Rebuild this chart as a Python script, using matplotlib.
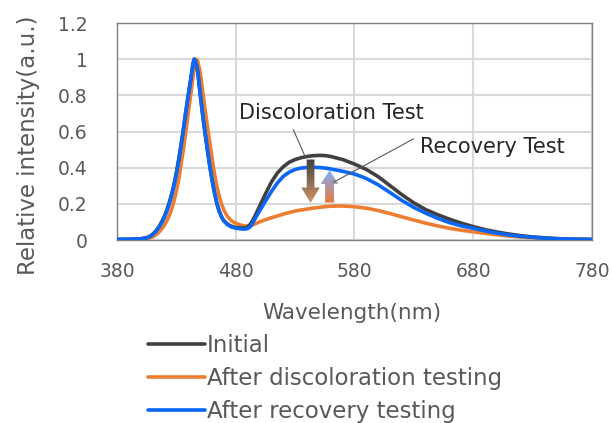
import numpy as np
import matplotlib
matplotlib.use("Agg")
import matplotlib.pyplot as plt
from matplotlib.patches import FancyArrow
from matplotlib.colors import LinearSegmentedColormap

plt.rcParams['font.family'] = ['DejaVu Sans']

# wavelengths (nm)
wavelength = [380, 390, 400, 405, 408, 410, 412, 414, 416, 418, 420, 422, 424, 426,
              428, 430, 432, 434, 436, 438, 440, 442, 444, 445, 446, 447, 448, 450,
              452, 454, 456, 458, 460, 462, 464, 466, 468, 470, 473, 476, 480, 485,
              488, 490, 492, 494, 496, 498, 500, 505, 510, 515, 520, 525, 530, 535,
              540, 545, 550, 555, 560, 570, 580, 590, 600, 610, 620, 630, 640, 650,
              660, 670, 680, 690, 700, 710, 720, 730, 740, 750, 760, 770, 780]

initial = [0.003, 0.004, 0.007, 0.013, 0.022, 0.032, 0.045, 0.061, 0.081, 0.105, 0.133, 0.167, 0.207, 0.253,
           0.308, 0.373, 0.447, 0.53, 0.618, 0.712, 0.80, 0.885, 0.975, 1.0, 0.99, 0.965, 0.93, 0.81,
           0.70, 0.60, 0.505, 0.415, 0.335, 0.265, 0.205, 0.16, 0.128, 0.107, 0.088, 0.077, 0.069, 0.066,
           0.067, 0.072, 0.085, 0.105, 0.13, 0.158, 0.185, 0.255, 0.32, 0.37, 0.405, 0.43, 0.445, 0.455,
           0.462, 0.466, 0.468, 0.467, 0.462, 0.445, 0.42, 0.39, 0.35, 0.30, 0.25, 0.205, 0.168, 0.14,
           0.115, 0.093, 0.074, 0.057, 0.044, 0.033, 0.024, 0.017, 0.012, 0.008, 0.005, 0.004, 0.003]

discolored = [0.002, 0.003, 0.005, 0.007, 0.012, 0.017, 0.025, 0.035, 0.048, 0.064, 0.083, 0.106, 0.135, 0.17,
              0.215, 0.27, 0.335, 0.42, 0.505, 0.60, 0.70, 0.80, 0.90, 0.95, 0.985, 1.0, 0.99, 0.93,
              0.83, 0.73, 0.635, 0.545, 0.455, 0.37, 0.30, 0.245, 0.20, 0.165, 0.13, 0.108, 0.092, 0.081,
              0.077, 0.077, 0.079, 0.083, 0.088, 0.094, 0.10, 0.112, 0.123, 0.133, 0.143, 0.152, 0.16, 0.166,
              0.171, 0.176, 0.18, 0.184, 0.187, 0.188, 0.184, 0.176, 0.163, 0.146, 0.128, 0.11, 0.093, 0.078,
              0.065, 0.054, 0.045, 0.037, 0.029, 0.022, 0.016, 0.012, 0.008, 0.006, 0.004, 0.003, 0.002]

recovered = [0.003, 0.004, 0.006, 0.012, 0.02, 0.03, 0.042, 0.058, 0.077, 0.10, 0.127, 0.16, 0.20, 0.245,
             0.30, 0.365, 0.44, 0.525, 0.615, 0.71, 0.80, 0.885, 0.975, 1.0, 0.99, 0.965, 0.93, 0.81,
             0.70, 0.60, 0.505, 0.415, 0.335, 0.265, 0.205, 0.16, 0.128, 0.105, 0.085, 0.073, 0.065, 0.061,
             0.061, 0.063, 0.072, 0.09, 0.115, 0.138, 0.16, 0.215, 0.268, 0.315, 0.352, 0.375, 0.39, 0.398,
             0.401, 0.402, 0.401, 0.398, 0.393, 0.38, 0.365, 0.34, 0.305, 0.262, 0.218, 0.18, 0.148, 0.12,
             0.096, 0.078, 0.065, 0.05, 0.038, 0.028, 0.02, 0.015, 0.01, 0.007, 0.005, 0.004, 0.003]

series_labels = ['Initial', 'After discoloration testing', 'After recovery testing']
series_colors = ['#404040', '#ED7D31', '#0A66F5']
x_ticks = [380, 480, 580, 680, 780]
y_ticks = [0, 0.2, 0.4, 0.6, 0.8, 1.0, 1.2]
y_ticklabels = ['0', '0.2', '0.4', '0.6', '0.8', '1', '1.2']

fig = plt.figure(figsize=(6.13, 4.23), dpi=100)
ax = fig.add_axes([117/613, 1-240/423, (592-117)/613, (240-23)/423])

zs = [3, 2, 4]
for data, lab, col, z in zip([initial, discolored, recovered], series_labels, series_colors, zs):
    ax.plot(wavelength, data, color=col, lw=2.6, label=lab, zorder=z,
            solid_capstyle='round', solid_joinstyle='round')

ax.set_xlim(380, 780)
ax.set_ylim(0, 1.2)
ax.set_xticks(x_ticks)
ax.set_yticks(y_ticks)
ax.set_yticklabels(y_ticklabels)
ax.grid(True, color='#d9d9d9', lw=1.5, zorder=0)
ax.set_axisbelow(True)
for s in ax.spines.values():
    s.set_color('#808080')
    s.set_linewidth(1.0)
ax.tick_params(length=0, labelsize=13.5, colors='#595959')
ax.tick_params(axis='x', pad=16)
ax.tick_params(axis='y', pad=21)
ax.set_xlabel('Wavelength(nm)', fontsize=15.5, color='#595959')
ax.xaxis.set_label_coords((352-117)/475, -(323-240)/217)
ax.xaxis.label.set_va('bottom')
ax.set_ylabel('Relative intensity(a.u.)', fontsize=16.5, color='#595959')
ax.yaxis.set_label_coords(-(117-40)/475, (240-145)/217)

# gradient arrows
def grad_arrow(xc, y0, y1, w, hw, hl, c0, c1):
    arr = FancyArrow(xc, y0, 0, y1 - y0, width=w, head_width=hw, head_length=hl,
                     length_includes_head=True, facecolor='none', edgecolor='none',
                     transform=ax.transData)
    ax.add_patch(arr)
    cmap = LinearSegmentedColormap.from_list('g', [c0, c1])
    grad = np.linspace(0, 1, 100).reshape(-1, 1)
    lo, hi = min(y0, y1), max(y0, y1)
    img = grad if y0 < y1 else grad[::-1]
    im = ax.imshow(img, cmap=cmap, extent=[xc - hw/2, xc + hw/2, lo, hi],
                   origin='lower', aspect='auto', zorder=5, interpolation='bilinear')
    im.set_clip_path(arr)

grad_arrow(543, 0.445, 0.205, 6.5, 15.5, 0.085, '#404040', '#D49466')
grad_arrow(559, 0.207, 0.385, 7.5, 15.0, 0.075, '#E8793A', '#7FB0FF')
ax.set_xlim(380, 780)
ax.set_ylim(0, 1.2)

# annotations
ax.text(482.5, 0.705, 'Discoloration Test', fontsize=15, color='#262626', va='center', ha='left', zorder=6)
ax.plot([528.5, 538.3], [0.61, 0.463], color='#595959', lw=0.8, zorder=6)
ax.text(635, 0.517, 'Recovery Test', fontsize=15, color='#262626', va='center', ha='left', zorder=6)
ax.plot([629.6, 562], [0.559, 0.318], color='#595959', lw=0.8, zorder=6)

leg = fig.legend(loc='upper left', bbox_to_anchor=(148/613, 1-334/423), frameon=False,
                 fontsize=16.5, handlelength=2.5, handletextpad=0.08, labelspacing=0.44,
                 borderpad=0, borderaxespad=0)
for t in leg.get_texts():
    t.set_color('#595959')

fig.savefig('out.png', dpi=100)
